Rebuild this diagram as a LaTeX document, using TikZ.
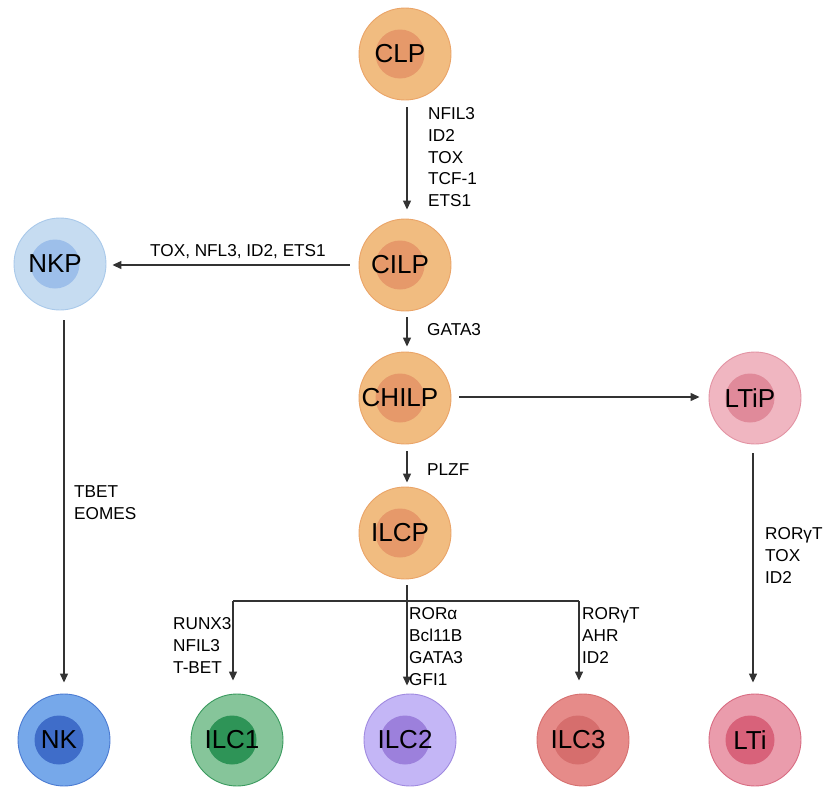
\documentclass[tikz,border=0pt]{standalone}
\usepackage{fontspec}
\setmainfont{Liberation Sans}
\usetikzlibrary{arrows.meta}
\definecolor{orO}{HTML}{F1BC80}\definecolor{orI}{HTML}{E6996A}\definecolor{orS}{HTML}{EAA468}
\definecolor{nkpO}{HTML}{C6DCF1}\definecolor{nkpI}{HTML}{9DBFEA}\definecolor{nkpS}{HTML}{A9C9EA}
\definecolor{ltpO}{HTML}{F0B6C1}\definecolor{ltpI}{HTML}{E08A9A}\definecolor{ltpS}{HTML}{E293A3}
\definecolor{nkO}{HTML}{76A8EA}\definecolor{nkI}{HTML}{3F6DC9}\definecolor{nkS}{HTML}{4B7BD2}
\definecolor{i1O}{HTML}{86C59A}\definecolor{i1I}{HTML}{2E9457}\definecolor{i1S}{HTML}{3A9A5E}
\definecolor{i2O}{HTML}{C4B6F6}\definecolor{i2I}{HTML}{9C80DC}\definecolor{i2S}{HTML}{A08AE0}
\definecolor{i3O}{HTML}{E68B89}\definecolor{i3I}{HTML}{D66E6D}\definecolor{i3S}{HTML}{D67070}
\definecolor{ltO}{HTML}{EA9CAC}\definecolor{ltI}{HTML}{D8627A}\definecolor{ltS}{HTML}{D86C82}
\definecolor{arrc}{HTML}{333333}
\tikzset{
  outer/.style={circle,minimum size=92pt,inner sep=0pt,line width=0.9pt},
  innerc/.style={circle,minimum size=49pt,inner sep=0pt},
  celltxt/.style={font=\fontsize{26}{30}\selectfont,inner sep=0pt,text=black},
  lbl/.style={font=\fontsize{17.2}{20}\selectfont,inner sep=0pt,text=black},
  arr/.style={draw=arrc,line width=1.3pt,-{Triangle[length=9pt,width=8pt]}},
  ln/.style={draw=arrc,line width=1.3pt},
}
\newcommand\cellnode[6]{%
  \node[outer,fill=#3,draw=#5] (#1) at (#2) {};
  \node[innerc,fill=#4] (#1in) at ([xshift=-5pt]#1.center) {};
  \node[celltxt] (#1txt) at (#1in.center) {#6};
}
\begin{document}
\begin{tikzpicture}[x=1pt,y=-1pt]
\useasboundingbox (0,0) rectangle (824,787);
\cellnode{clp}{405,54}{orO}{orI}{orS}{CLP}
\cellnode{cilp}{405,265}{orO}{orI}{orS}{CILP}
\cellnode{chilp}{405,398}{orO}{orI}{orS}{CHILP}
\cellnode{ilcp}{405,533}{orO}{orI}{orS}{ILCP}
\cellnode{nkp}{60,264}{nkpO}{nkpI}{nkpS}{NKP}
\cellnode{ltip}{755,398}{ltpO}{ltpI}{ltpS}{LTiP}
\cellnode{nk}{64,740}{nkO}{nkI}{nkS}{NK}
\cellnode{ilca}{237,740}{i1O}{i1I}{i1S}{ILC1}
\cellnode{ilcb}{410,740}{i2O}{i2I}{i2S}{ILC2}
\cellnode{ilcc}{583,740}{i3O}{i3I}{i3S}{ILC3}
\cellnode{lti}{755,740}{ltO}{ltI}{ltS}{LTi}

% arrows
\draw[arr] ([shift={(2,7)}]clp.south) -- ([shift={(2,-9)}]cilp.north);
\draw[arr] ([shift={(-9,0)}]cilp.west) -- ([shift={(6,1)}]nkp.east);
\draw[arr] ([shift={(2,6)}]cilp.south) -- ([shift={(2,-5)}]chilp.north);
\draw[arr] ([shift={(8,-1)}]chilp.east) -- ([shift={(-9,-1)}]ltip.west);
\draw[arr] ([shift={(2,7)}]chilp.south) -- ([shift={(2,-4)}]ilcp.north);
\draw[arr] ([shift={(-2,9)}]ltip.south) -- ([shift={(-2,-11)}]lti.north);
\draw[arr] ([shift={(4,10)}]nkp.south) -- ([shift={(0,-11)}]nk.north);
% ILCP branches
\coordinate (bl) at (233,601);
\coordinate (br) at (579,601);
\draw[ln] (bl) -- (br);
\draw[arr] (bl) -- ([shift={(-4,-13)}]ilca.north);
\draw[arr] (br) -- ([shift={(-4,-13)}]ilcc.north);
\draw[arr] ([shift={(2,6)}]ilcp.south) -- ([shift={(-3,-8)}]ilcb.north);

% labels
\node[lbl,anchor=base west] (la1) at (428,119) {NFIL3};
\node[lbl,anchor=base west] (la2) at (428,141) {ID2};
\node[lbl,anchor=base west] (la3) at (428,163) {TOX};
\node[lbl,anchor=base west] (la4) at (428,184) {TCF-1};
\node[lbl,anchor=base west] (la5) at (428,206) {ETS1};
\node[lbl,anchor=base] (lb) at (238,256) {TOX, NFL3, ID2, ETS1};
\node[lbl,anchor=base west] (lc) at (427,335) {GATA3};
\node[lbl,anchor=base west] (ld) at (427,475) {PLZF};
\node[lbl,anchor=base west] (le1) at (74,497) {TBET};
\node[lbl,anchor=base west] (le2) at (74,519) {EOMES};
\node[lbl,anchor=base west] (lf1) at (765,539) {RORγT};
\node[lbl,anchor=base west] (lf2) at (765,561) {TOX};
\node[lbl,anchor=base west] (lf3) at (765,583) {ID2};
\node[lbl,anchor=base west] (lg1) at (173,629) {RUNX3};
\node[lbl,anchor=base west] (lg2) at (173,651) {NFIL3};
\node[lbl,anchor=base west] (lg3) at (173,673) {T-BET};
\node[lbl,anchor=base west] (lh1) at (409,619) {RORα};
\node[lbl,anchor=base west] (lh2) at (409,641) {Bcl11B};
\node[lbl,anchor=base west] (lh3) at (409,663) {GATA3};
\node[lbl,anchor=base west] (lh4) at (409,685) {GFI1};
\node[lbl,anchor=base west] (li1) at (582,619) {RORγT};
\node[lbl,anchor=base west] (li2) at (582,641) {AHR};
\node[lbl,anchor=base west] (li3) at (582,663) {ID2};
\end{tikzpicture}
\end{document}
